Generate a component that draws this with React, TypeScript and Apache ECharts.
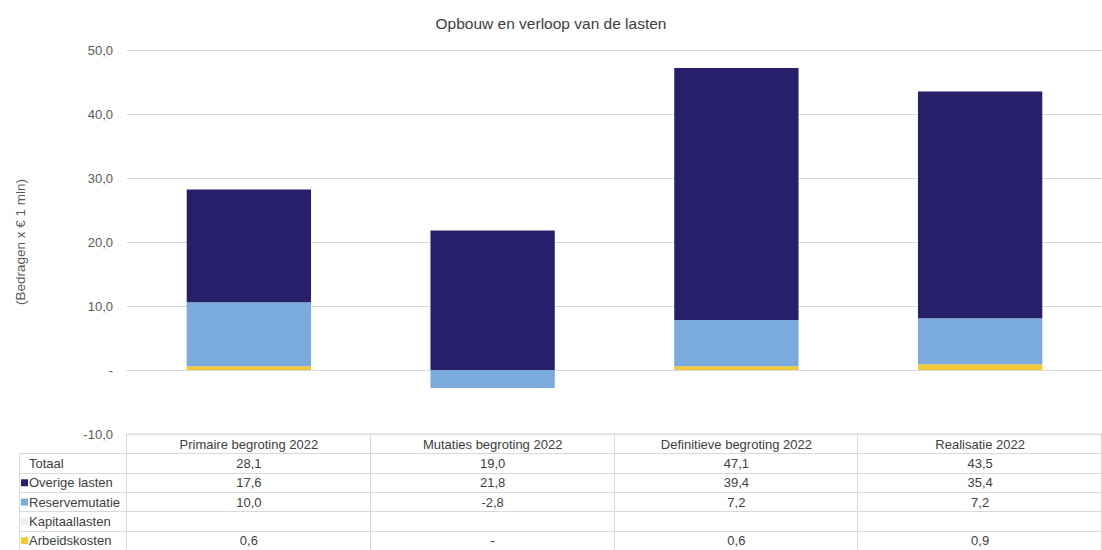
import React, { useEffect, useRef } from "react";
import * as echarts from "echarts";

const title = "Opbouw en verloop van de lasten";
const yAxisTitle = "(Bedragen x € 1 mln)";
const categories = [
  "Primaire begroting 2022",
  "Mutaties begroting 2022",
  "Definitieve begroting 2022",
  "Realisatie 2022",
];
const totaal = [28.1, 19.0, 47.1, 43.5];
const overigeLasten = [17.6, 21.8, 39.4, 35.4];
const reservemutatie = [10.0, -2.8, 7.2, 7.2];
const kapitaallasten: (number | null)[] = [null, null, null, null];
const arbeidskosten = [0.6, 0, 0.6, 0.9];
const yMin = -10;
const yMax = 50;
const yInterval = 10;

const seriesDefs = [
  { name: "Arbeidskosten", data: arbeidskosten as (number | null)[], color: "#f1c935" },
  { name: "Reservemutatie", data: reservemutatie as (number | null)[], color: "#7aabdc" },
  { name: "Kapitaallasten", data: kapitaallasten, color: "#e8eff8" },
  { name: "Overige lasten", data: overigeLasten as (number | null)[], color: "#271f69" },
];

const tableRows = [
  { name: "Totaal", data: totaal as (number | null)[], color: null as string | null },
  { name: "Overige lasten", data: overigeLasten as (number | null)[], color: "#271f69" },
  { name: "Reservemutatie", data: reservemutatie as (number | null)[], color: "#7aabdc" },
  { name: "Kapitaallasten", data: kapitaallasten, color: "#e8eff8" },
  { name: "Arbeidskosten", data: arbeidskosten as (number | null)[], color: "#f1c935" },
];

const fmt = (v: number | null) => {
  if (v === null || v === undefined) return "";
  if (v === 0) return "-";
  return v.toFixed(1).replace(".", ",");
};

export default function App() {
  const ref = useRef<HTMLDivElement>(null);
  useEffect(() => {
    if (!ref.current) return;
    const chart = echarts.init(ref.current, null, { renderer: "svg" });

    const W = 1102;
    const gridLeft = 127;
    const gridTop = 50;
    const tableTop = 434;
    const rowH = 19.3;
    const labelLeft = 19;
    const colW = (W - gridLeft) / categories.length;
    const lineColor = "#d9d9d9";
    const textColor = "#404040";
    const font = "Liberation Sans, Arial, sans-serif";
    const tableFont = `13px ${font}`;

    const graphics: any[] = [];
    graphics.push({
      type: "line",
      shape: { x1: gridLeft, y1: tableTop, x2: W, y2: tableTop },
      style: { stroke: lineColor, lineWidth: 1 },
      z: 10,
    });
    for (let i = 1; i <= tableRows.length; i++) {
      const y = Math.round(tableTop + rowH * i) + 0.5;
      graphics.push({
        type: "line",
        shape: { x1: labelLeft, y1: y, x2: W, y2: y },
        style: { stroke: lineColor, lineWidth: 1 },
        z: 10,
      });
    }
    const bottomY = tableTop + rowH * (tableRows.length + 1);
    graphics.push({
      type: "line",
      shape: { x1: labelLeft + 0.5, y1: tableTop + rowH, x2: labelLeft + 0.5, y2: bottomY },
      style: { stroke: lineColor, lineWidth: 1 },
      z: 10,
    });
    for (let j = 0; j <= categories.length; j++) {
      const x = Math.round(gridLeft + colW * j) - 0.5;
      graphics.push({
        type: "line",
        shape: { x1: x, y1: tableTop, x2: x, y2: bottomY },
        style: { stroke: lineColor, lineWidth: 1 },
        z: 10,
      });
    }
    categories.forEach((c, j) => {
      graphics.push({
        type: "text",
        x: gridLeft + colW * (j + 0.5),
        y: tableTop + rowH / 2 + 0.5,
        style: {
          text: c,
          fill: textColor,
          font: tableFont,
          align: "center",
          verticalAlign: "middle",
        },
        z: 11,
      });
    });
    tableRows.forEach((r, i) => {
      const cy = tableTop + rowH * (i + 1) + rowH / 2 + 0.5;
      if (r.color) {
        graphics.push({
          type: "rect",
          shape: { x: labelLeft + 2, y: cy - 3.5, width: 7, height: 7 },
          style: { fill: r.color },
          z: 11,
        });
      }
      graphics.push({
        type: "text",
        x: labelLeft + 10,
        y: cy,
        style: {
          text: r.name,
          fill: textColor,
          font: tableFont,
          align: "left",
          verticalAlign: "middle",
        },
        z: 11,
      });
      r.data.forEach((v, j) => {
        graphics.push({
          type: "text",
          x: gridLeft + colW * (j + 0.5),
          y: cy,
          style: {
            text: fmt(v),
            fill: textColor,
            font: tableFont,
            align: "center",
            verticalAlign: "middle",
          },
          z: 11,
        });
      });
    });

    chart.setOption({
      animation: false,
      backgroundColor: "#ffffff",
      title: {
        text: title,
        left: "center",
        top: 10,
        textStyle: { fontSize: 15.5, fontWeight: "normal", color: textColor, fontFamily: font },
      },
      grid: { left: gridLeft, right: 0, top: gridTop, bottom: 550 - tableTop },
      xAxis: {
        type: "category",
        data: categories,
        axisLabel: { show: false },
        axisTick: { show: false },
        axisLine: { show: true, onZero: true, lineStyle: { color: lineColor } },
      },
      yAxis: {
        type: "value",
        min: yMin,
        max: yMax,
        interval: yInterval,
        name: yAxisTitle,
        nameLocation: "middle",
        nameRotate: 90,
        nameGap: 100,
        nameTextStyle: { fontSize: 13.5, color: "#595959", fontFamily: font },
        axisLabel: {
          formatter: (v: number) => (v === 0 ? "-" : v.toFixed(1).replace(".", ",")),
          fontSize: 13,
          color: "#595959",
          fontFamily: font,
          margin: 14,
        },
        axisLine: { show: false },
        axisTick: { show: false },
        splitLine: { lineStyle: { color: lineColor } },
      },
      series: seriesDefs.map((s) => ({
        name: s.name,
        type: "bar",
        stack: "total",
        data: s.data,
        barWidth: "51%",
        itemStyle: { color: s.color },
      })),
      graphic: graphics,
    });
    return () => chart.dispose();
  }, []);
  return (
    <div
      ref={ref}
      style={{ position: "fixed", left: 0, top: 0, width: 1102, height: 550 }}
    />
  );
}
